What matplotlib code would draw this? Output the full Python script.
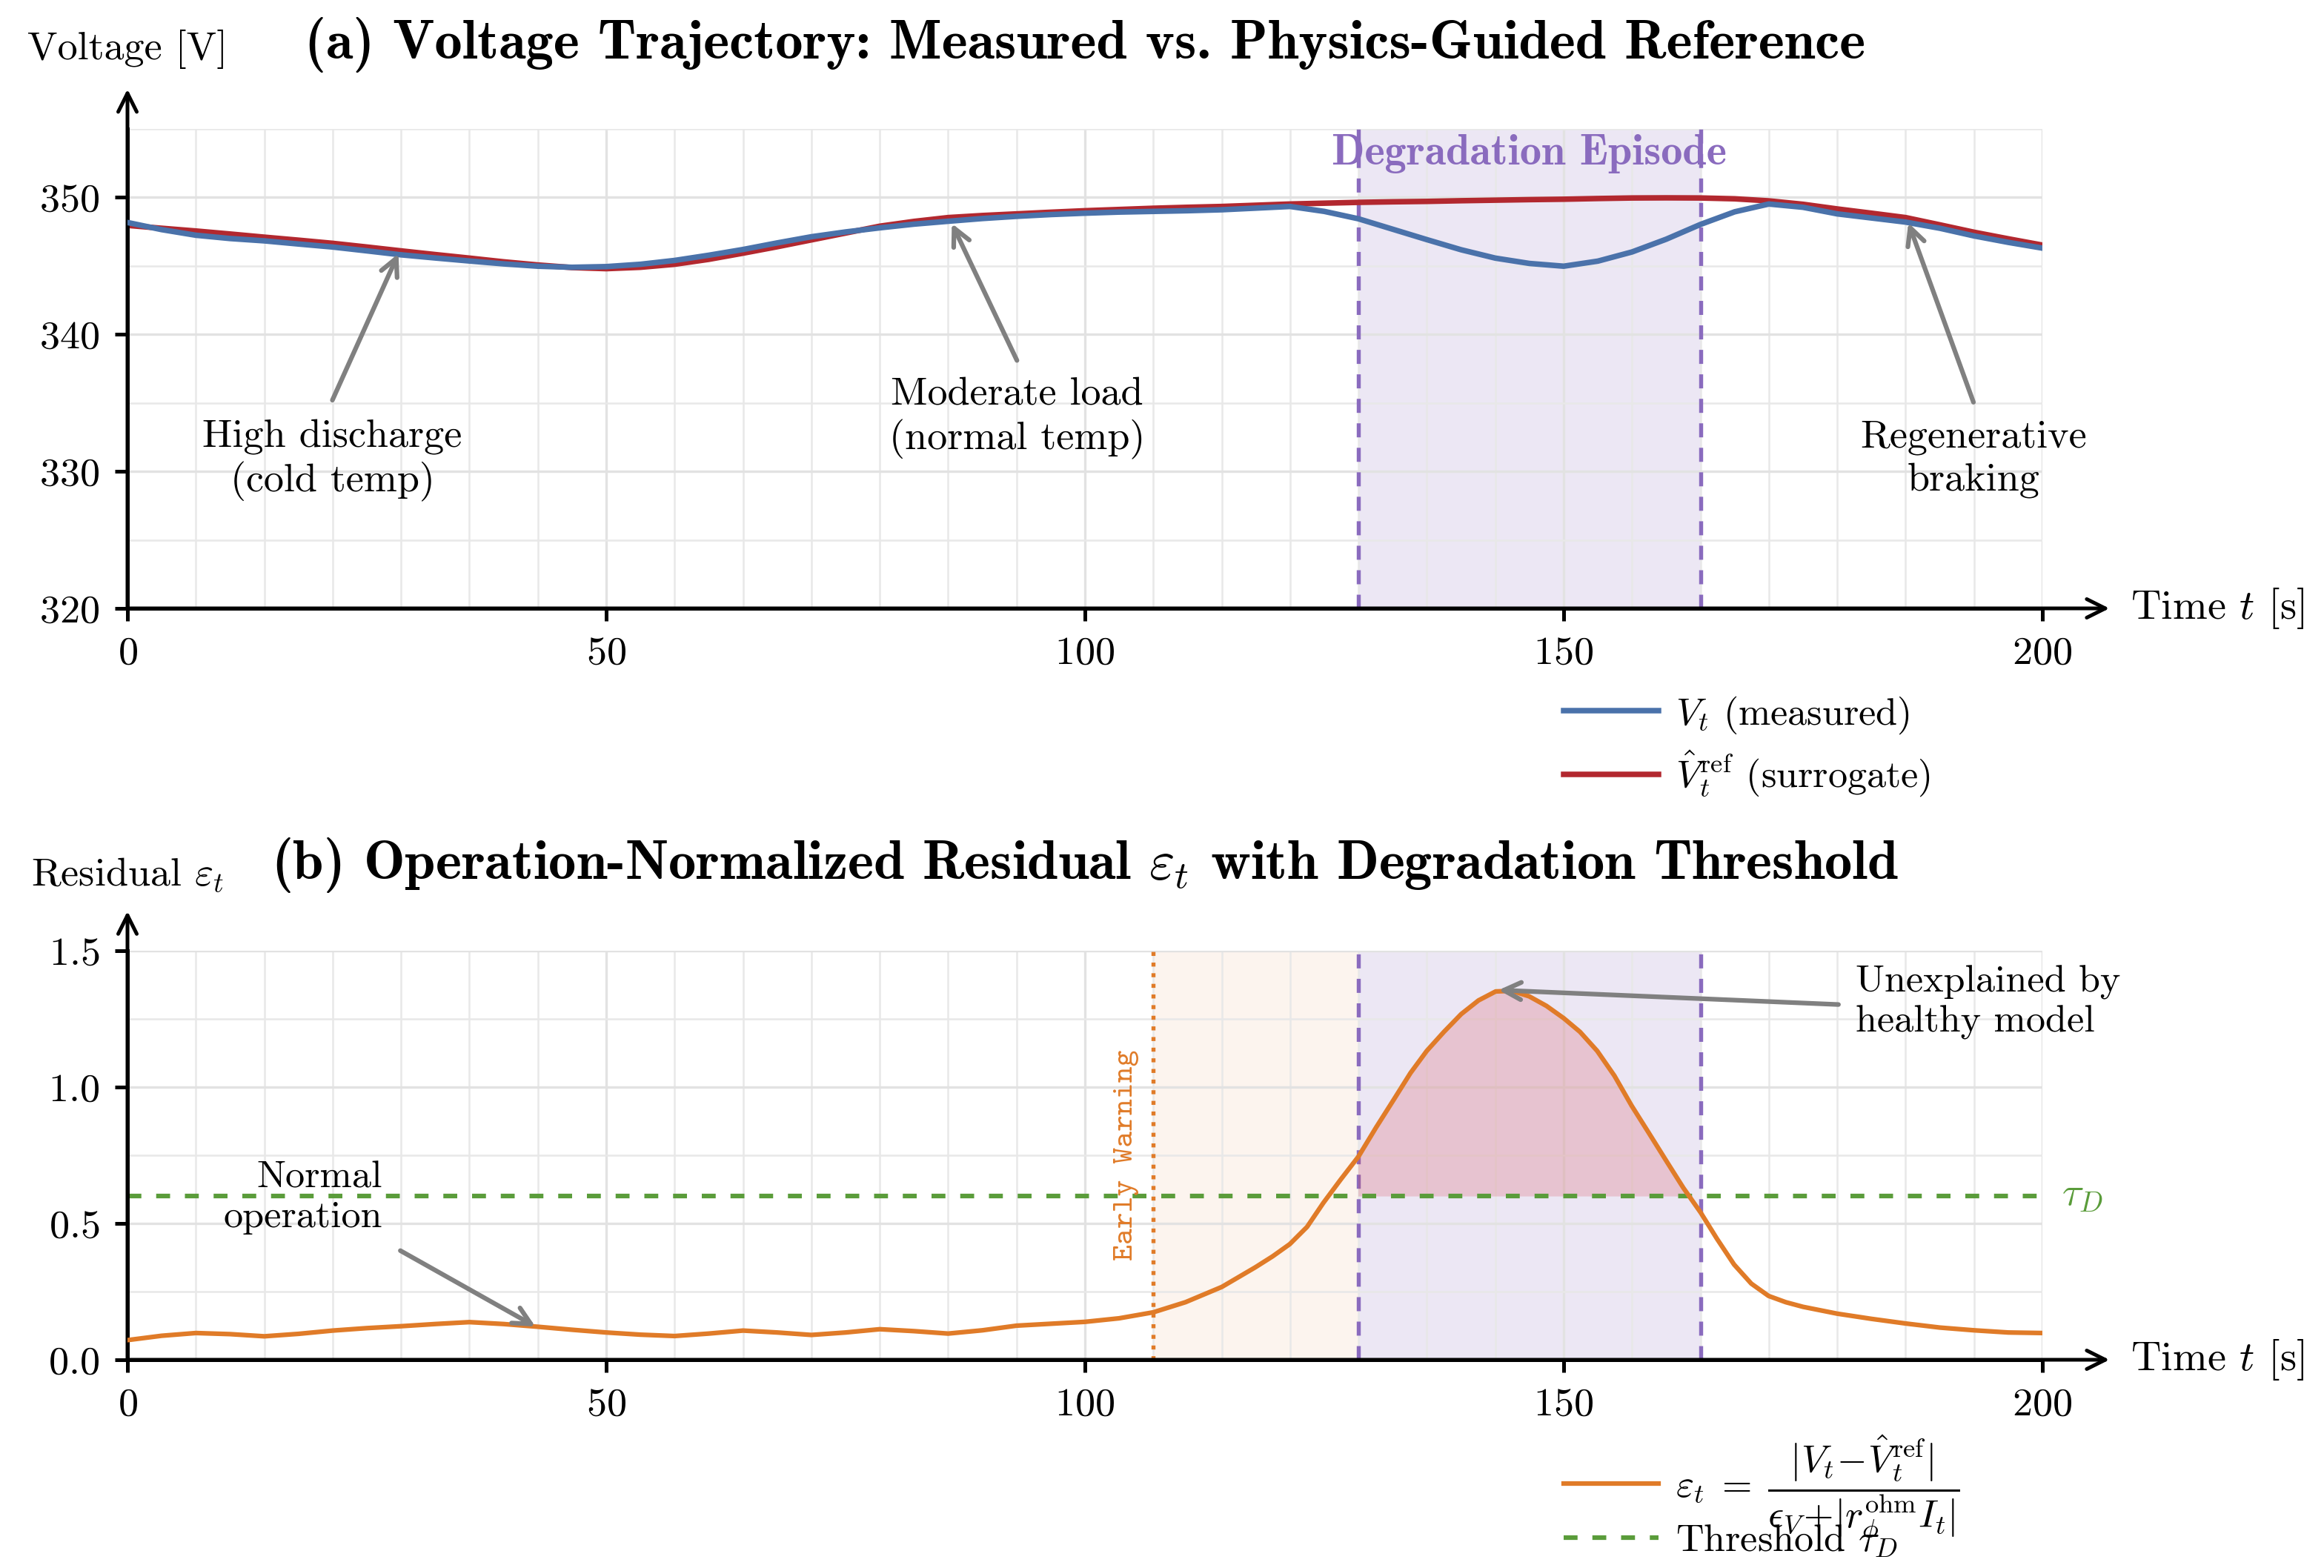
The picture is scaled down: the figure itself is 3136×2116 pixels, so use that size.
import numpy as np
import matplotlib
matplotlib.use("Agg")
import matplotlib.pyplot as plt
from matplotlib.ticker import MultipleLocator
from matplotlib.patches import Rectangle

# ---------------- data ----------------
time = [0.0, 3.57, 7.14, 10.71, 14.29, 17.86, 21.43, 25.0, 28.57, 32.14,
        35.71, 39.29, 42.86, 46.43, 50.0, 53.57, 57.14, 60.71, 64.29, 67.86,
        71.43, 75.0, 78.57, 82.14, 85.71, 89.29, 92.86, 96.43, 100.0, 103.57,
        107.14, 110.71, 114.29, 117.86, 121.43, 125.0, 128.57, 132.14, 135.71, 139.29,
        142.86, 146.43, 150.0, 153.57, 157.14, 160.71, 164.29, 167.86, 171.43, 175.0,
        178.57, 182.14, 185.71, 189.29, 192.86, 196.43, 200.0]

v_measured = [348.17, 347.65, 347.24, 347.00, 346.83, 346.60, 346.38, 346.10, 345.81, 345.58,
              345.36, 345.15, 344.98, 344.90, 344.95, 345.12, 345.40, 345.78, 346.20, 346.68,
              347.13, 347.48, 347.78, 348.05, 348.26, 348.46, 348.62, 348.75, 348.85, 348.93,
              348.98, 349.03, 349.10, 349.22, 349.34, 348.98, 348.44, 347.68, 346.92, 346.18,
              345.57, 345.18, 344.98, 345.35, 346.02, 346.95, 348.03, 348.95, 349.52, 349.28,
              348.80, 348.50, 348.20, 347.75, 347.19, 346.72, 346.30]

v_reference = [347.96, 347.75, 347.55, 347.33, 347.10, 346.88, 346.65, 346.38, 346.10, 345.83,
               345.57, 345.30, 345.07, 344.88, 344.80, 344.90, 345.12, 345.48, 345.93, 346.40,
               346.90, 347.40, 347.90, 348.25, 348.53, 348.68, 348.80, 348.92, 349.03, 349.12,
               349.21, 349.28, 349.34, 349.43, 349.52, 349.58, 349.64, 349.68, 349.71, 349.76,
               349.80, 349.84, 349.87, 349.92, 349.96, 349.97, 349.96, 349.90, 349.75, 349.50,
               349.16, 348.85, 348.53, 348.00, 347.46, 346.98, 346.52]

time_resid = [0.0, 3.57, 7.14, 10.71, 14.29, 17.86, 21.43, 25.0, 28.57, 32.14,
              35.71, 39.29, 42.86, 46.43, 50.0, 53.57, 57.14, 60.71, 64.29, 67.86,
              71.43, 75.0, 78.57, 82.14, 85.71, 89.29, 92.86, 96.43, 100.0, 103.57,
              107.14, 110.5, 114.3, 117.8, 119.6, 121.4, 123.2, 124.9, 126.7, 128.57,
              130.4, 132.3, 134.0, 135.7, 137.5, 139.3, 141.1, 142.9, 144.6, 146.4,
              148.2, 150.0, 151.7, 153.5, 155.3, 157.1, 158.9, 160.7, 162.5, 164.3,
              166.0, 167.8, 169.6, 171.4, 173.2, 175.0, 178.57, 182.14, 185.71, 189.29,
              192.86, 196.43, 200.0]

residual = [0.072, 0.088, 0.098, 0.094, 0.086, 0.095, 0.107, 0.116, 0.123, 0.131,
            0.138, 0.131, 0.121, 0.110, 0.100, 0.092, 0.087, 0.096, 0.107, 0.100,
            0.091, 0.100, 0.112, 0.105, 0.096, 0.108, 0.125, 0.132, 0.139, 0.152,
            0.174, 0.211, 0.267, 0.339, 0.379, 0.424, 0.487, 0.575, 0.660, 0.745,
            0.851, 0.956, 1.051, 1.132, 1.202, 1.267, 1.317, 1.350, 1.352, 1.332,
            1.297, 1.252, 1.202, 1.132, 1.041, 0.931, 0.831, 0.730, 0.630, 0.540,
            0.444, 0.349, 0.279, 0.234, 0.211, 0.194, 0.169, 0.150, 0.133, 0.118,
            0.108, 0.100, 0.098]

tau_d = 0.6
t_warning = 107.14
deg_start = 128.57
deg_end = 164.29

x_ticks = [0, 50, 100, 150, 200]
v_ticks = [320, 330, 340, 350]
r_ticks = [0.0, 0.5, 1.0, 1.5]

# ---------------- style ----------------
C_BLUE = "#4a72aa"
C_RED = "#b2282f"
C_ORANGE = "#e07b28"
C_GREEN = "#5a9c3a"
C_PURPLE = "#8a6bbe"
C_GRAY = "#808080"

plt.rcParams.update({
    "font.family": "cmr10",
    "mathtext.fontset": "cm",
    "axes.formatter.use_mathtext": True,
    "font.size": 13,
    "axes.unicode_minus": False,
})

W_PX, H_PX = 3136, 2116
fig = plt.figure(figsize=(W_PX / 300, H_PX / 300), dpi=300)
ax1 = fig.add_axes([0.05485, 0.61200, 0.82398, 0.30577])
ax2 = fig.add_axes([0.05485, 0.13280, 0.82398, 0.26101])

t = np.array(time)
tr = np.array(time_resid)
r = np.array(residual)


def style_axes(ax, yl, yminor, yticks, arrow_top):
    ax.set_xlim(0, 200)
    ax.set_ylim(*yl)
    ax.set_xticks(x_ticks)
    ax.set_yticks(yticks)
    ax.xaxis.set_minor_locator(MultipleLocator(50 / 7))
    ax.yaxis.set_minor_locator(MultipleLocator(yminor))
    ax.grid(True, which="major", color="#e2e2e2", lw=0.8, zorder=0)
    ax.grid(True, which="minor", color="#e8e8e8", lw=0.6, zorder=0)
    ax.set_axisbelow(True)
    for s in ["top", "right"]:
        ax.spines[s].set_visible(False)
    for s in ["left", "bottom"]:
        ax.spines[s].set_linewidth(1.2)
    ax.tick_params(which="major", direction="out", length=4, width=1.2, labelsize=13, pad=5)
    ax.tick_params(which="minor", length=0)
    ap = dict(arrowstyle="->", lw=1.2, color="black", shrinkA=0, shrinkB=0, mutation_scale=15)
    ax.annotate("", xy=(1.035, 0), xytext=(0, 0), xycoords="axes fraction",
                textcoords="axes fraction", arrowprops=ap, annotation_clip=False)
    ax.annotate("", xy=(0, arrow_top), xytext=(0, 0), xycoords="axes fraction",
                textcoords="axes fraction", arrowprops=ap, annotation_clip=False)
    ax.text(1.046, 0, r"Time $t$ [s]", transform=ax.transAxes, ha="left", va="center",
            fontsize=13.5)


# ---------------- panel (a) ----------------
style_axes(ax1, (320, 355), 5, v_ticks, 1.083)
ax1.axvspan(deg_start, deg_end, color=C_PURPLE, alpha=0.16, lw=0, zorder=0.5)
for xv in (deg_start, deg_end):
    ax1.axvline(xv, color=C_PURPLE, lw=1.3, ls=(0, (3.5, 2.6)), zorder=1)
l1, = ax1.plot(t, v_measured, color=C_BLUE, lw=1.8, zorder=3, label=r"$V_t$ (measured)")
l2, = ax1.plot(t, v_reference, color=C_RED, lw=1.8, zorder=2,
               label=r"$\hat{V}_t^{\mathrm{ref}}$ (surrogate)")
ax1.text((deg_start + deg_end) / 2, 353.2, "Degradation Episode", ha="center", va="center",
         color=C_PURPLE, fontsize=14, family="cmb10")

arr = dict(arrowstyle="->", color=C_GRAY, lw=1.5, shrinkA=0, shrinkB=0, mutation_scale=14)
ax1.annotate("", xy=(28.3, 345.9), xytext=(21.4, 335.2), arrowprops=arr)
ax1.text(21.4, 330.8, "High discharge\n(cold temp)", ha="center", va="center",
         multialignment="center", fontsize=13, linespacing=1.25)
ax1.annotate("", xy=(86.1, 348.1), xytext=(92.9, 338.1), arrowprops=arr)
ax1.text(92.9, 333.9, "Moderate load\n(normal temp)", ha="center", va="center",
         multialignment="center", fontsize=13, linespacing=1.25)
ax1.annotate("", xy=(186.0, 348.15), xytext=(192.8, 335.05), arrowprops=arr)
ax1.text(192.8, 330.9, "Regenerative\nbraking", ha="center", va="center",
         multialignment="center", fontsize=13, linespacing=1.25)

ax1.text(0.0, 1.167, "Voltage [V]", transform=ax1.transAxes, ha="center", va="center",
         fontsize=13)
ax1.text(0.5, 1.176, "(a) Voltage Trajectory: Measured vs. Physics-Guided Reference",
         transform=ax1.transAxes, ha="center", va="center", fontsize=17.9, family="cmb10")

ax1.legend(handles=[l1, l2], loc="upper left", bbox_to_anchor=(0.6728, 0.557),
           bbox_transform=fig.transFigure, frameon=False, fontsize=12.5,
           handlelength=2.45, handletextpad=0.45, borderpad=0, borderaxespad=0,
           labelspacing=0.35)

# ---------------- panel (b) ----------------
style_axes(ax2, (0, 1.5), 0.25, r_ticks, 1.096)
ax2.axvspan(t_warning, deg_start, color=C_ORANGE, alpha=0.08, lw=0, zorder=0.5)
ax2.axvspan(deg_start, deg_end, color=C_PURPLE, alpha=0.16, lw=0, zorder=0.5)
for xv in (deg_start, deg_end):
    ax2.axvline(xv, color=C_PURPLE, lw=1.3, ls=(0, (3.5, 2.6)), zorder=1)
ax2.axvline(t_warning, color=C_ORANGE, lw=1.3, ls=":", zorder=1)

fill = ax2.fill_between(tr, tau_d, r, where=r > tau_d, interpolate=True,
                        color="#d64550", alpha=0.22, lw=0, zorder=1.5)
fill.set_clip_path(Rectangle((deg_start, 0), deg_end - deg_start, 2, transform=ax2.transData))

l3 = ax2.axhline(tau_d, color=C_GREEN, lw=1.5, ls=(0, (3, 3.2)), zorder=2,
                 label=r"Threshold $\tau_D$")
l4, = ax2.plot(tr, r, color=C_ORANGE, lw=1.5, zorder=3,
               label=r"$\varepsilon_t \;=\; \dfrac{|V_t\!-\!\hat{V}_t^{\mathrm{ref}}|}"
                     r"{\epsilon_V\!+\!|r_\phi^{\mathrm{ohm}} I_t|}$")

ax2.text(202, tau_d, r"$\tau_D$", color=C_GREEN, ha="left", va="center", fontsize=13)
ax2.text(104.3, 0.75, "Early Warning", rotation=90, ha="center", va="center",
         color=C_ORANGE, fontsize=10, family="cmtt10")

ax2.annotate("", xy=(42.6, 0.122), xytext=(28.5, 0.40), arrowprops=arr)
ax2.text(26.6, 0.594, "Normal\noperation", ha="right", va="center",
         multialignment="right", fontsize=12.5, linespacing=1.2)
ax2.annotate("", xy=(143.2, 1.355), xytext=(178.7, 1.302), arrowprops=arr)
ax2.text(180.5, 1.31, "Unexplained by\nhealthy model", ha="left", va="center",
         multialignment="left", fontsize=12.5, linespacing=1.2)

ax2.text(0.0, 1.185, r"Residual $\varepsilon_t$", transform=ax2.transAxes, ha="center",
         va="center", fontsize=13)
ax2.text(0.5, 1.208,
         r"(b) Operation-Normalized Residual $\varepsilon_t$ with Degradation Threshold",
         transform=ax2.transAxes, ha="center", va="center", fontsize=17.9, family="cmb10")

leg_kw = dict(bbox_transform=fig.transFigure, frameon=False, fontsize=12.5,
              handlelength=2.45, handletextpad=0.45, borderpad=0, borderaxespad=0)
leg_x = 0.6728
leg_a = ax2.legend(handles=[l4], loc="center left", bbox_to_anchor=(leg_x, 0.05), **leg_kw)
ax2.add_artist(leg_a)
leg_b = ax2.legend(handles=[l3], loc="center left", bbox_to_anchor=(leg_x, 0.02), **leg_kw)

# place the legend rows so their handle lines sit where the reference has them
fig.canvas.draw()
renderer = fig.canvas.get_renderer()
for leg, target_from_top in ((leg_a, 2002), (leg_b, 2075)):
    h = leg.legend_handles[0]
    bb = h.get_window_extent(renderer)
    yc = 0.5 * (bb.y0 + bb.y1)
    target = H_PX - target_from_top
    anchor = leg.get_bbox_to_anchor()
    y_now = anchor.y0 / H_PX
    leg.set_bbox_to_anchor((leg_x, y_now + (target - yc) / H_PX), transform=fig.transFigure)

fig.savefig("out.png", dpi=300)
